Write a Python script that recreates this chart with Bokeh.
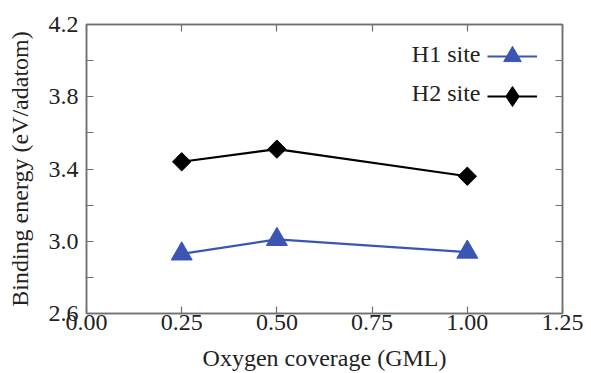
import math
from bokeh.plotting import figure
from bokeh.models import (FixedTicker, LinearAxis, Legend, LegendItem, Range1d, Label,
                          PrintfTickFormatter, CustomJSTickFormatter)
from bokeh.embed import file_html
from bokeh.resources import INLINE

# ---- data ----
coverage = [0.25, 0.5, 1.0]
h1_energy = [2.93, 3.01, 2.94]
h2_energy = [3.44, 3.51, 3.36]
x_ticks = [0.0, 0.25, 0.5, 0.75, 1.0, 1.25]
y_major_ticks = [2.6, 3.0, 3.4, 3.8, 4.2]
y_minor_ticks = [2.8, 3.2, 3.6, 4.0]
series_labels = ["H1 site", "H2 site"]
x_title = "Oxygen coverage (GML)"
y_title = "Binding energy (eV/adatom)"

FONT = "Liberation Serif"
GRAY = "#707070"
TEXT = "#222222"
BLUE = "#3a55b4"

p = figure(width=591, height=373, output_backend="svg", toolbar_location=None,
           x_range=Range1d(0, 1.25), y_range=Range1d(2.6, 4.2),
           min_border_left=86, min_border_right=29, min_border_top=24,
           min_border_bottom=60, background_fill_color="white",
           border_fill_color="white")
p.grid.visible = False
p.outline_line_color = GRAY
p.outline_line_width = 1.5

l1 = p.line(coverage, h1_energy, line_color=BLUE, line_width=2.2)
s1 = p.scatter(coverage, h1_energy, marker="triangle", size=21,
               fill_color=BLUE, line_color=BLUE)
l2 = p.line(coverage, h2_energy, line_color="black", line_width=2.2)
# key glyph for the legend (hidden beneath the data markers)
s2_key = p.scatter(coverage, h2_energy, marker="diamond", size=1,
                   fill_color="black", line_color="black")
s2 = p.scatter(coverage, h2_energy, marker="square", size=13, angle=math.pi / 4,
               fill_color="black", line_color="black")

xticker = FixedTicker(ticks=x_ticks, minor_ticks=[])
yticker = FixedTicker(ticks=y_major_ticks, minor_ticks=y_minor_ticks)


def style_axis(ax):
    ax.axis_line_color = GRAY
    ax.axis_line_width = 1.5
    ax.major_tick_line_color = GRAY
    ax.minor_tick_line_color = GRAY
    ax.major_tick_line_width = 1.2
    ax.minor_tick_line_width = 1.2
    ax.major_tick_in = 7
    ax.major_tick_out = 0
    ax.major_label_text_font = FONT
    ax.major_label_text_font_size = "24px"
    ax.major_label_text_color = TEXT
    ax.axis_label_text_font = FONT
    ax.axis_label_text_font_size = "24px"
    ax.axis_label_text_font_style = "normal"
    ax.axis_label_text_color = TEXT


xa = p.xaxis[0]
style_axis(xa)
xa.ticker = xticker
xa.formatter = PrintfTickFormatter(format="%.2f")
xa.minor_tick_in = 0
xa.minor_tick_out = 0
xa.major_label_standoff = 1
xa.axis_label = x_title
xa.axis_label_standoff = 12

ya = p.yaxis[0]
style_axis(ya)
ya.ticker = yticker
ya.formatter = PrintfTickFormatter(format="%.1f")
ya.minor_tick_in = 7
ya.minor_tick_out = 0
ya.major_label_standoff = 8
ya.axis_label = y_title
ya.axis_label_standoff = 13

blank = CustomJSTickFormatter(code="return ''")
top = LinearAxis(ticker=xticker, formatter=blank)
style_axis(top)
top.minor_tick_in = 0
top.minor_tick_out = 0
top.major_label_text_font_size = "0px"
top.major_label_standoff = 0
p.add_layout(top, "above")

right = LinearAxis(ticker=yticker, formatter=blank)
style_axis(right)
right.minor_tick_in = 7
right.minor_tick_out = 0
right.major_label_text_font_size = "0px"
right.major_label_standoff = 0
p.add_layout(right, "right")


def make_legend(item, loc, gh):
    return Legend(items=[item], location=loc, glyph_width=50, glyph_height=gh,
                  label_height=gh, label_width=1, spacing=0, padding=0, margin=0,
                  border_line_color=None, background_fill_alpha=0,
                  label_text_font=FONT, label_text_font_size="24px",
                  label_text_color=TEXT, label_standoff=0)


leg1 = make_legend(LegendItem(label=" ", renderers=[l1, s1]), (401, 235), 44)
leg2 = make_legend(LegendItem(label=" ", renderers=[l2, s2_key]), (401, 189), 56)
p.add_layout(leg1)
p.add_layout(leg2)

for txt, ty in zip(series_labels, [260, 221]):
    p.add_layout(Label(x=394, y=ty, x_units="screen", y_units="screen", text=txt,
                       text_align="right", text_baseline="middle",
                       text_font=FONT, text_font_size="24px", text_color=TEXT))

open("out.html", "w").write(file_html(p, INLINE))
